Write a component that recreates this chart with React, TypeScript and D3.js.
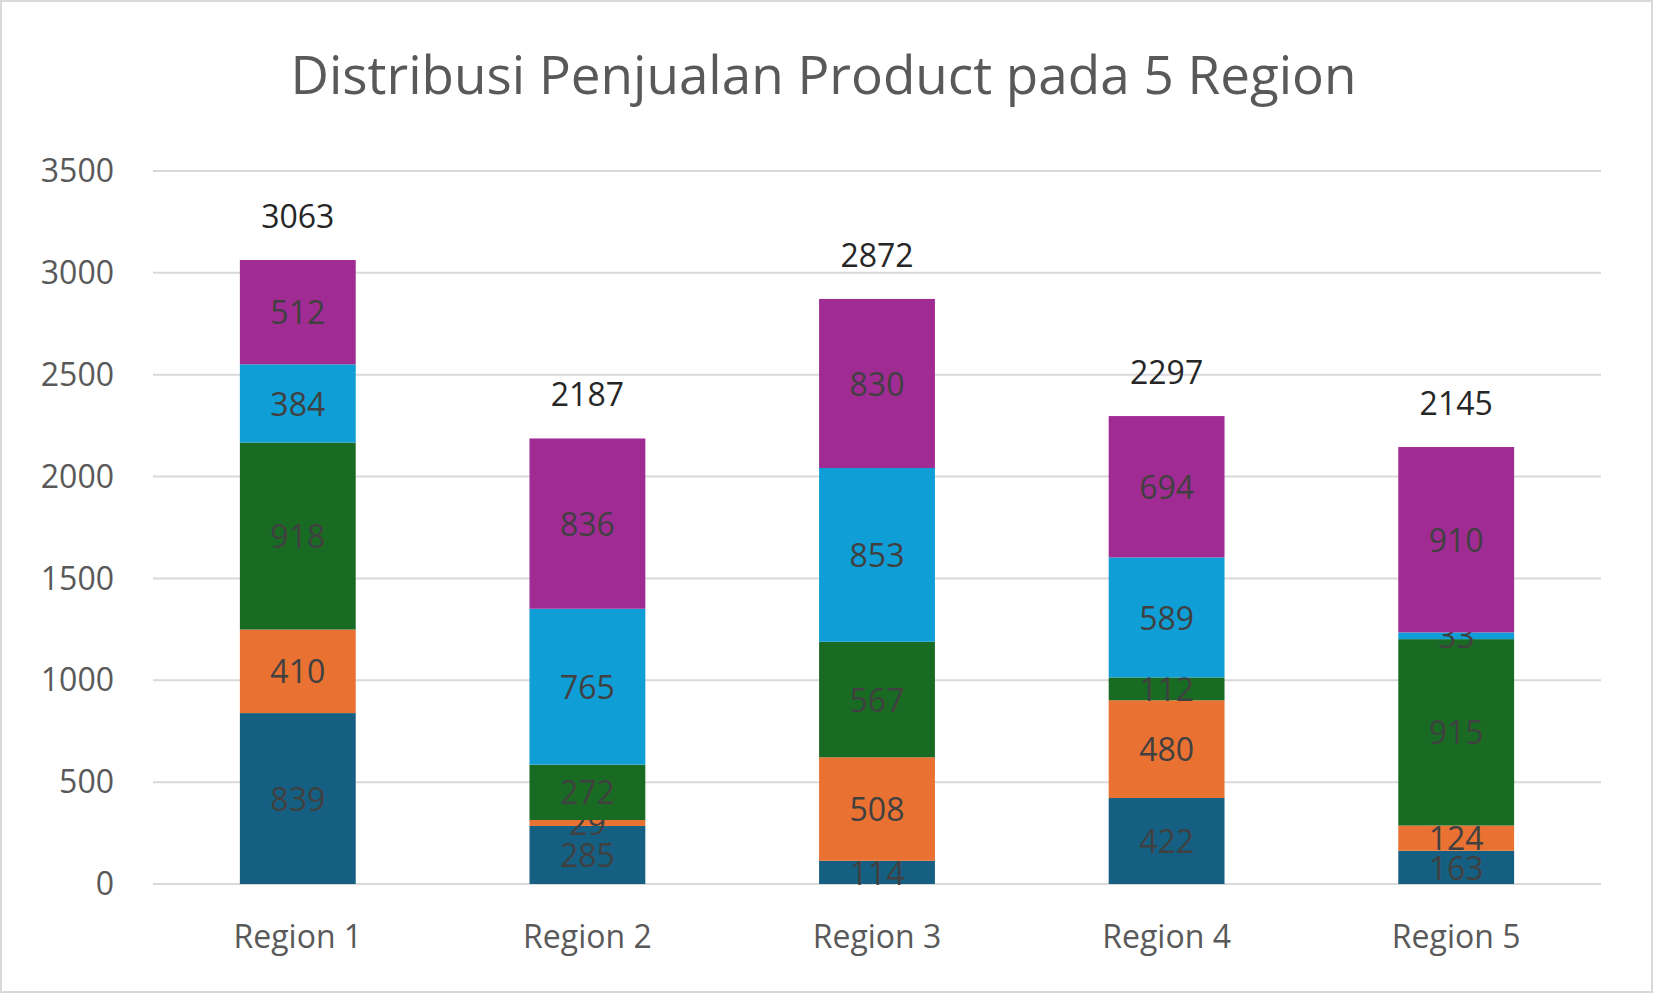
import * as d3 from "d3";
import { useEffect, useRef } from "react";

const regions = ["Region 1", "Region 2", "Region 3", "Region 4", "Region 5"];
const series1 = [839, 285, 114, 422, 163];
const series2 = [410, 29, 508, 480, 124];
const series3 = [918, 272, 567, 112, 915];
const series4 = [384, 765, 853, 589, 33];
const series5 = [512, 836, 830, 694, 910];
const yTicks = [0, 500, 1000, 1500, 2000, 2500, 3000, 3500];
const colors = ["#156082", "#e97132", "#196b24", "#0f9ed5", "#a02b93"];

const W = 1653;
const H = 993;
const font = "'Open Sans', 'Noto Sans', sans-serif";

function drawChart(svgEl: SVGSVGElement) {
    const svg = d3.select(svgEl);
    svg.selectAll("*").remove();

    svg.append("rect")
        .attr("x", 1).attr("y", 1).attr("width", W - 2).attr("height", H - 2)
        .attr("fill", "#fff").attr("stroke", "#d9d9d9").attr("stroke-width", 2);

    const x = d3.scaleBand<string>().domain(regions).range([153, 1601])
        .paddingInner(0.6).paddingOuter(0.3);
    const y = d3.scaleLinear().domain([0, 3500]).range([884, 171]);

    // gridlines and tick labels
    svg.append("g").selectAll("line").data(yTicks).enter().append("line")
        .attr("x1", 153).attr("x2", 1601)
        .attr("y1", d => y(d)).attr("y2", d => y(d))
        .attr("stroke", "#d9d9d9").attr("stroke-width", 2);
    svg.append("g").selectAll("text").data(yTicks).enter().append("text")
        .attr("x", 114).attr("y", d => y(d)).attr("dy", "0.35em")
        .attr("text-anchor", "end").attr("fill", "#595959")
        .style("font-family", font).style("font-size", "32px")
        .text(d => d);

    svg.append("g").selectAll("text").data(regions).enter().append("text")
        .attr("x", d => x(d)! + x.bandwidth() / 2).attr("y", 948)
        .attr("text-anchor", "middle").attr("fill", "#595959")
        .style("font-family", font).style("font-size", "32px")
        .text(d => d);

    const table = regions.map((r, i) => ({
        region: r, s1: series1[i], s2: series2[i], s3: series3[i], s4: series4[i], s5: series5[i],
    }));
    const keys = ["s1", "s2", "s3", "s4", "s5"];
    const stacked = d3.stack<any>().keys(keys)(table);

    stacked.forEach((layer, li) => {
        const g = svg.append("g");
        g.selectAll("rect").data(layer).enter().append("rect")
            .attr("x", d => x(d.data.region)!)
            .attr("width", x.bandwidth())
            .attr("y", d => y(d[1]))
            .attr("height", d => y(d[0]) - y(d[1]))
            .attr("fill", colors[li]);
        g.selectAll("text").data(layer).enter().append("text")
            .attr("x", d => x(d.data.region)! + x.bandwidth() / 2)
            .attr("y", d => (y(d[0]) + y(d[1])) / 2).attr("dy", "0.38em")
            .attr("text-anchor", "middle").attr("fill", "#404040")
            .style("font-family", font).style("font-size", "32px")
            .text(d => d[1] - d[0]);
    });

    svg.append("g").selectAll("text").data(table).enter().append("text")
        .attr("x", d => x(d.region)! + x.bandwidth() / 2)
        .attr("y", d => y(d.s1 + d.s2 + d.s3 + d.s4 + d.s5) - 32)
        .attr("text-anchor", "middle").attr("fill", "#262626")
        .style("font-family", font).style("font-size", "32px")
        .text(d => d.s1 + d.s2 + d.s3 + d.s4 + d.s5);

    svg.append("text")
        .attr("x", W / 2 - 3).attr("y", 94).attr("text-anchor", "middle")
        .attr("fill", "#595959").style("font-family", font).style("font-size", "53px")
        .text("Distribusi Penjualan Product pada 5 Region");
}

export default function App() {
    const ref = useRef<SVGSVGElement>(null);
    useEffect(() => {
        if (ref.current) drawChart(ref.current);
    }, []);
    return (
        <svg ref={ref} width={W} height={H}
            style={{ position: "fixed", left: 0, top: 0, display: "block" }} />
    );
}
